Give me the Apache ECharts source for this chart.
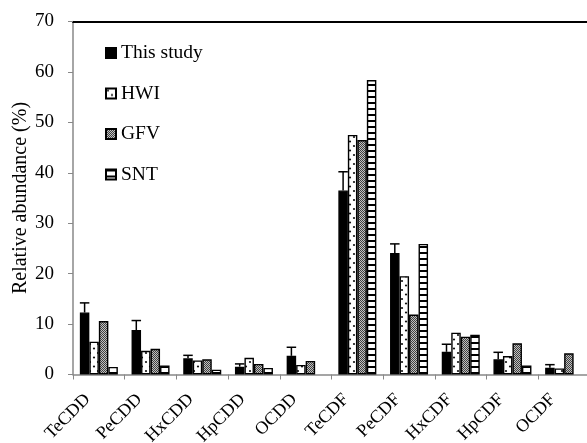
<!DOCTYPE html>
<html>
<head>
<meta charset="utf-8">
<script src="https://cdn.jsdelivr.net/npm/echarts@6/dist/echarts.min.js"></script>
<style>html,body{margin:0;padding:0;background:#fff}#c{width:587px;height:443px}</style>
</head>
<body>
<div id="c"></div>
<script>
const categories = ['TeCDD','PeCDD','HxCDD','HpCDD','OCDD','TeCDF','PeCDF','HxCDF','HpCDF','OCDF'];
const thisStudy = [12.3, 8.8, 3.2, 1.55, 3.7, 36.5, 24.1, 4.5, 3.0, 1.35];
const thisStudyErr = [1.9, 1.9, 0.6, 0.55, 1.7, 3.7, 1.8, 1.5, 1.4, 0.6];
const hwi = [6.5, 4.7, 2.8, 3.3, 1.9, 47.5, 19.5, 8.3, 3.65, 1.2];
const gfv = [10.6, 5.1, 3.0, 2.1, 2.7, 46.5, 11.9, 7.5, 6.2, 4.2];
const snt = [1.5, 1.8, 0.95, 1.3, null, 58.4, 25.9, 7.9, 1.8, null];
const yTicks = {min: 0, max: 70, interval: 10};

const FONT = '"Liberation Serif", "Times New Roman", serif';

function makePattern(w, h, draw) {
  const c = document.createElement('canvas');
  c.width = w; c.height = h;
  const ctx = c.getContext('2d');
  draw(ctx, w, h);
  return {image: c, repeat: 'repeat'};
}
const dotPattern = makePattern(8, 9, (ctx, w, h) => {
  ctx.fillStyle = '#fff'; ctx.fillRect(0, 0, w, h);
  ctx.fillStyle = '#111';
  ctx.beginPath(); ctx.arc(2, 2, 1.1, 0, Math.PI * 2); ctx.fill();
  ctx.beginPath(); ctx.arc(6, 6.5, 1.1, 0, Math.PI * 2); ctx.fill();
});
const checkPattern = makePattern(2, 2, (ctx, w, h) => {
  ctx.fillStyle = '#c0c0c0'; ctx.fillRect(0, 0, w, h);
  ctx.fillStyle = '#404040'; ctx.fillRect(0, 0, 1, 1); ctx.fillRect(1, 1, 1, 1);
});
const stripePattern = makePattern(4, 6, (ctx, w, h) => {
  ctx.fillStyle = '#fff'; ctx.fillRect(0, 0, w, h);
  ctx.fillStyle = '#000'; ctx.fillRect(0, 0, w, 2);
});

const GAP = 0.265;
const border = {borderColor: '#000', borderWidth: 1.4};

const chart = echarts.init(document.getElementById('c'), null, {renderer: 'canvas'});
chart.setOption({
  animation: false,
  backgroundColor: '#fff',
  grid: {left: 73, right: -3, top: 21.5, bottom: 68.5, containLabel: false, outerBoundsMode: 'none'},
  legend: {
    data: ['This study', 'HWI', 'GFV', 'SNT'],
    orient: 'vertical',
    left: 100, top: 38,
    itemWidth: 10, itemHeight: 10,
    itemGap: 20.5,
    icon: 'rect',
    textStyle: {fontFamily: FONT, fontSize: 19.5, color: '#000'}
  },
  xAxis: [{
    type: 'category',
    data: categories,
    axisLine: {lineStyle: {color: '#888', width: 1.5}},
    axisTick: {show: true, length: 5, lineStyle: {color: '#888'}},
    axisLabel: {rotate: 45, margin: 11, padding: [0, 16, 0, 0], fontFamily: FONT, fontSize: 18, color: '#000'}
  }, {
    type: 'category',
    data: categories,
    position: 'top',
    axisLine: {show: true, lineStyle: {color: '#000', width: 2}},
    axisTick: {show: false},
    axisLabel: {show: false}
  }],
  yAxis: {
    type: 'value',
    min: yTicks.min, max: yTicks.max, interval: yTicks.interval,
    name: 'Relative abundance (%)',
    nameLocation: 'middle',
    nameMoveOverlap: false,
    nameGap: 42,
    nameTextStyle: {fontFamily: FONT, fontSize: 20, color: '#000'},
    axisLine: {show: true, lineStyle: {color: '#888', width: 1.5}},
    axisTick: {show: true, length: 5, lineStyle: {color: '#888'}},
    axisLabel: {margin: 19, fontFamily: FONT, fontSize: 19, color: '#000'},
    splitLine: {show: false}
  },
  series: [
    {name: 'This study', type: 'bar', data: thisStudy, barGap: '0%', barCategoryGap: (GAP * 100) + '%',
     itemStyle: Object.assign({color: '#000'}, border)},
    {name: 'HWI', type: 'bar', data: hwi, barGap: '0%', barCategoryGap: (GAP * 100) + '%',
     itemStyle: Object.assign({color: dotPattern}, border)},
    {name: 'GFV', type: 'bar', data: gfv, barGap: '0%', barCategoryGap: (GAP * 100) + '%',
     itemStyle: Object.assign({color: checkPattern}, border)},
    {name: 'SNT', type: 'bar', data: snt, barGap: '0%', barCategoryGap: (GAP * 100) + '%',
     itemStyle: Object.assign({color: stripePattern}, border)},
    {
      name: 'err', type: 'custom', z: 10,
      data: categories.map((c, i) => [i, thisStudy[i], thisStudyErr[i]]),
      renderItem: function (params, api) {
        const i = api.value(0), v = api.value(1), e = api.value(2);
        const p = api.coord([i, v]);
        const t = api.coord([i, v + e]);
        const band = api.size([1, 0])[0];
        const bw = band * (1 - GAP) / 4;
        const cx = p[0] - 1.5 * bw;
        const st = {stroke: '#000', lineWidth: 1.5};
        return {
          type: 'group',
          children: [
            {type: 'line', shape: {x1: cx, y1: p[1], x2: cx, y2: t[1]}, style: st},
            {type: 'line', shape: {x1: cx - bw / 2, y1: t[1], x2: cx + bw / 2, y2: t[1]}, style: st}
          ]
        };
      }
    }
  ]
});
</script>
</body>
</html>
